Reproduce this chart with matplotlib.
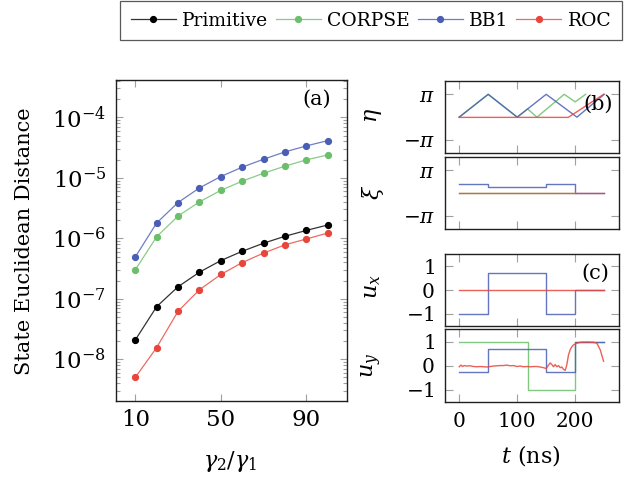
import numpy as np
import matplotlib
matplotlib.use('Agg')
import matplotlib.pyplot as plt
from matplotlib.ticker import LogLocator, FixedLocator, NullFormatter

plt.rcParams['font.family'] = ['DejaVu Serif']
plt.rcParams['mathtext.fontset'] = 'dejavuserif'

# ---------------- data: panel (a) ----------------
ratio = [10, 20, 30, 40, 50, 60, 70, 80, 90, 100]
dist_primitive = [2.08e-8, 7.4e-8, 1.58e-7, 2.75e-7, 4.28e-7, 6.1e-7, 8.3e-7, 1.08e-6, 1.35e-6, 1.66e-6]
dist_corpse = [3.0e-7, 1.06e-6, 2.33e-6, 4.0e-6, 6.2e-6, 8.8e-6, 1.19e-5, 1.56e-5, 1.98e-5, 2.39e-5]
dist_bb1 = [4.9e-7, 1.79e-6, 3.9e-6, 6.8e-6, 1.05e-5, 1.5e-5, 2.03e-5, 2.68e-5, 3.37e-5, 4.12e-5]
dist_roc = [5.0e-9, 1.56e-8, 6.2e-8, 1.41e-7, 2.52e-7, 3.97e-7, 5.7e-7, 7.8e-7, 9.75e-7, 1.22e-6]

# ---------------- data: panel (b), angles in units of pi ----------------
eta_bb1_t = [0, 50, 100, 150, 203, 250]
eta_bb1 = [0, 1, 0, 1, 0, 1]
eta_corpse_t = [0, 50, 100, 118, 134, 181, 200, 218]
eta_corpse = [0, 1, 0, 0.36, 0, 1, 0.67, 1]
eta_roc_t = [0, 188, 249]
eta_roc = [-0.01, -0.01, 1]

xi_bb1_t = [0, 50, 150, 200, 250]
xi_bb1 = [0.406, 0.246, 0.406, 0, 0]
xi_corpse_t = [0, 200]
xi_corpse = [0, 0]
xi_roc_t = [0, 250]
xi_roc = [0, 0]

# ---------------- data: panel (c) ----------------
ux_bb1_t = [0, 50, 150, 200, 250]
ux_bb1 = [-1, 0.74, -1, 0, 0]
ux_roc_t = [0, 250]
ux_roc = [0, 0]

uy_corpse_t = [0, 118, 200, 250]
uy_corpse = [1, -1, 1, 1]
uy_bb1_t = [0, 50, 150, 200, 250]
uy_bb1 = [-0.245, 0.69, -0.245, 1, 1]
uy_roc_t = [0, 2.9, 5.7, 8.6, 13.2, 19.0, 24.7, 30.5, 36.2, 42.0, 47.7, 53.4, 59.2,
            64.9, 70.7, 76.4, 82.2, 87.9, 93.7, 99.4, 105.2, 110.9, 116.7, 122.4,
            128.2, 133.9, 139.7, 145.4, 150.0, 154.0, 156.9, 159.8, 162.6, 165.5,
            168.4, 171.3, 174.1, 177.0, 179.9, 182.8, 185.6, 188.5, 191.4, 194.3,
            197.1, 202.9, 208.6, 220.1, 231.6, 237.4, 243.1, 248.9]
uy_roc = [-0.04, 0.03, -0.03, 0.01, -0.01, 0.0, -0.03, -0.04, -0.03, -0.04, -0.05,
          -0.03, -0.01, 0.0, 0.01, 0.01, 0.03, 0.0, 0.01, -0.03, -0.01, -0.04, -0.03,
          -0.04, -0.03, -0.03, -0.05, -0.08, -0.11, 0.03, 0.12, 0.05, -0.04, 0.05,
          -0.04, 0.01, -0.08, -0.05, -0.15, -0.19, 0.05, 0.46, 0.67, 0.80, 0.87,
          0.94, 0.98, 0.99, 0.98, 0.94, 0.67, 0.19]

c_prim = (0.0, 0.0, 0.0)
c_corpse = (0.42, 0.75, 0.42)
c_bb1 = (0.29, 0.37, 0.71)
c_roc = (0.91, 0.27, 0.23)
tick_gray = '#a0a0a0'

fig = plt.figure(figsize=(6.38, 4.8), dpi=100)


def style_axis(ax, length, fs):
    ax.tick_params(which='both', direction='in', top=True, right=True,
                   color=tick_gray, width=0.8, labelsize=fs, pad=6)
    ax.tick_params(which='major', length=length)
    for sp in ax.spines.values():
        sp.set_linewidth(1.0)
        sp.set_color('#202020')


# ---------------- (a) ----------------
axa = fig.add_axes([116 / 638, 79 / 480, 231 / 638, 321 / 480])
series = [(dist_primitive, c_prim, 'Primitive'), (dist_corpse, c_corpse, 'CORPSE'),
          (dist_bb1, c_bb1, 'BB1'), (dist_roc, c_roc, 'ROC')]
handles = []
for vals, c, name in series:
    h, = axa.plot(ratio, vals, '-o', color=c + (0.8,), lw=0.9, ms=4.2,
                  mfc=c, mec=c, label=name)
    handles.append(h)
axa.set_yscale('log')
axa.set_xlim(1, 109)
axa.set_ylim(10 ** -8.69, 10 ** -3.383)
axa.xaxis.set_major_locator(FixedLocator([10, 50, 90]))
axa.yaxis.set_major_locator(LogLocator(base=10, numticks=20))
axa.yaxis.set_minor_locator(LogLocator(base=10, subs=np.arange(2, 10), numticks=20))
axa.yaxis.set_minor_formatter(NullFormatter())
style_axis(axa, 5, 16.5)
axa.tick_params(which='minor', length=3)
axa.tick_params(axis='y', pad=7)
axa.text(0.87, 0.94, '(a)', transform=axa.transAxes, ha='center', va='center', fontsize=15)

# ---------------- right column ----------------
rx, rw = 444.7 / 638, 174 / 638
ax_eta = fig.add_axes([rx, (480 - 153) / 480, rw, 71.7 / 480])
ax_xi = fig.add_axes([rx, (480 - 229) / 480, rw, 72 / 480])
ax_ux = fig.add_axes([rx, (480 - 326.3) / 480, rw, 72.3 / 480])
ax_uy = fig.add_axes([rx, (480 - 402.3) / 480, rw, 73 / 480])

lw_r = 1.0
al = 0.85
ax_eta.plot(eta_corpse_t, np.array(eta_corpse) * np.pi, color=c_corpse, lw=lw_r, alpha=al)
ax_eta.plot(eta_bb1_t, np.array(eta_bb1) * np.pi, color=c_bb1, lw=lw_r, alpha=al)
ax_eta.plot(eta_roc_t, np.array(eta_roc) * np.pi, color=c_roc, lw=lw_r, alpha=al)

ax_xi.step(xi_bb1_t, np.array(xi_bb1) * np.pi, where='post', color=c_bb1, lw=lw_r, alpha=al)
ax_xi.plot(xi_corpse_t, np.array(xi_corpse) * np.pi, color=c_corpse, lw=lw_r, alpha=al)
ax_xi.plot(xi_roc_t, np.array(xi_roc) * np.pi, color=c_roc, lw=lw_r, alpha=0.75)

ax_ux.step(ux_bb1_t, ux_bb1, where='post', color=c_bb1, lw=lw_r, alpha=al)
ax_ux.plot(ux_roc_t, ux_roc, color=c_roc, lw=lw_r, alpha=al)

ax_uy.step(uy_corpse_t, uy_corpse, where='post', color=c_corpse, lw=lw_r, alpha=al)
ax_uy.step(uy_bb1_t, uy_bb1, where='post', color=c_bb1, lw=lw_r, alpha=al)
ax_uy.plot(uy_roc_t, uy_roc, color=c_roc, lw=lw_r, alpha=al)

for ax in (ax_eta, ax_xi):
    ax.set_ylim(-1.57 * np.pi, 1.57 * np.pi)
    ax.set_yticks([-np.pi, np.pi])
    ax.set_yticklabels([r'$-\pi$', r'$\pi$'])
for ax in (ax_ux, ax_uy):
    ax.set_ylim(-1.52, 1.52)
    ax.set_yticks([-1, 0, 1])
    ax.set_yticklabels([r'$-1$', r'$0$', r'$1$'])
for ax in (ax_eta, ax_xi, ax_ux, ax_uy):
    ax.set_xlim(-25, 275)
    ax.set_xticks([0, 100, 200])
    style_axis(ax, 6, 14.5)
    ax.tick_params(pad=7)
for ax in (ax_eta, ax_xi, ax_ux):
    ax.set_xticklabels([])

ax_eta.text(0.88, 0.68, '(b)', transform=ax_eta.transAxes, ha='center', va='center', fontsize=15)
ax_ux.text(0.864, 0.733, '(c)', transform=ax_ux.transAxes, ha='center', va='center', fontsize=15)

# ---------------- axis labels ----------------
def fig_text(x, y, s, **kw):
    fig.text(x / 638, 1 - y / 480, s, ha='center', va='center', **kw)


fig_text(25, 241, 'State Euclidean Distance', rotation=90, fontsize=15)
fig_text(230, 462, r'$\gamma_2/\gamma_1$', fontsize=16)
fig_text(531, 456, r'$t$ (ns)', fontsize=16)
fig_text(373, 115, r'$\eta$', rotation=90, fontsize=16)
fig_text(373, 192, r'$\xi$', rotation=90, fontsize=16)
fig_text(372, 287, r'$u_x$', rotation=90, fontsize=16)
fig_text(372, 365, r'$u_y$', rotation=90, fontsize=16)

# ---------------- legend ----------------
leg = fig.legend(handles=handles, loc='center', bbox_to_anchor=(371 / 638, 1 - 20.5 / 480),
                 ncol=4, fontsize=13.5, frameon=True, fancybox=False, handlelength=2.4,
                 handletextpad=0.35, columnspacing=0.4, borderpad=0.55)
leg.get_frame().set_edgecolor('#303030')
leg.get_frame().set_linewidth(0.9)

fig.savefig('out.png', dpi=100)
